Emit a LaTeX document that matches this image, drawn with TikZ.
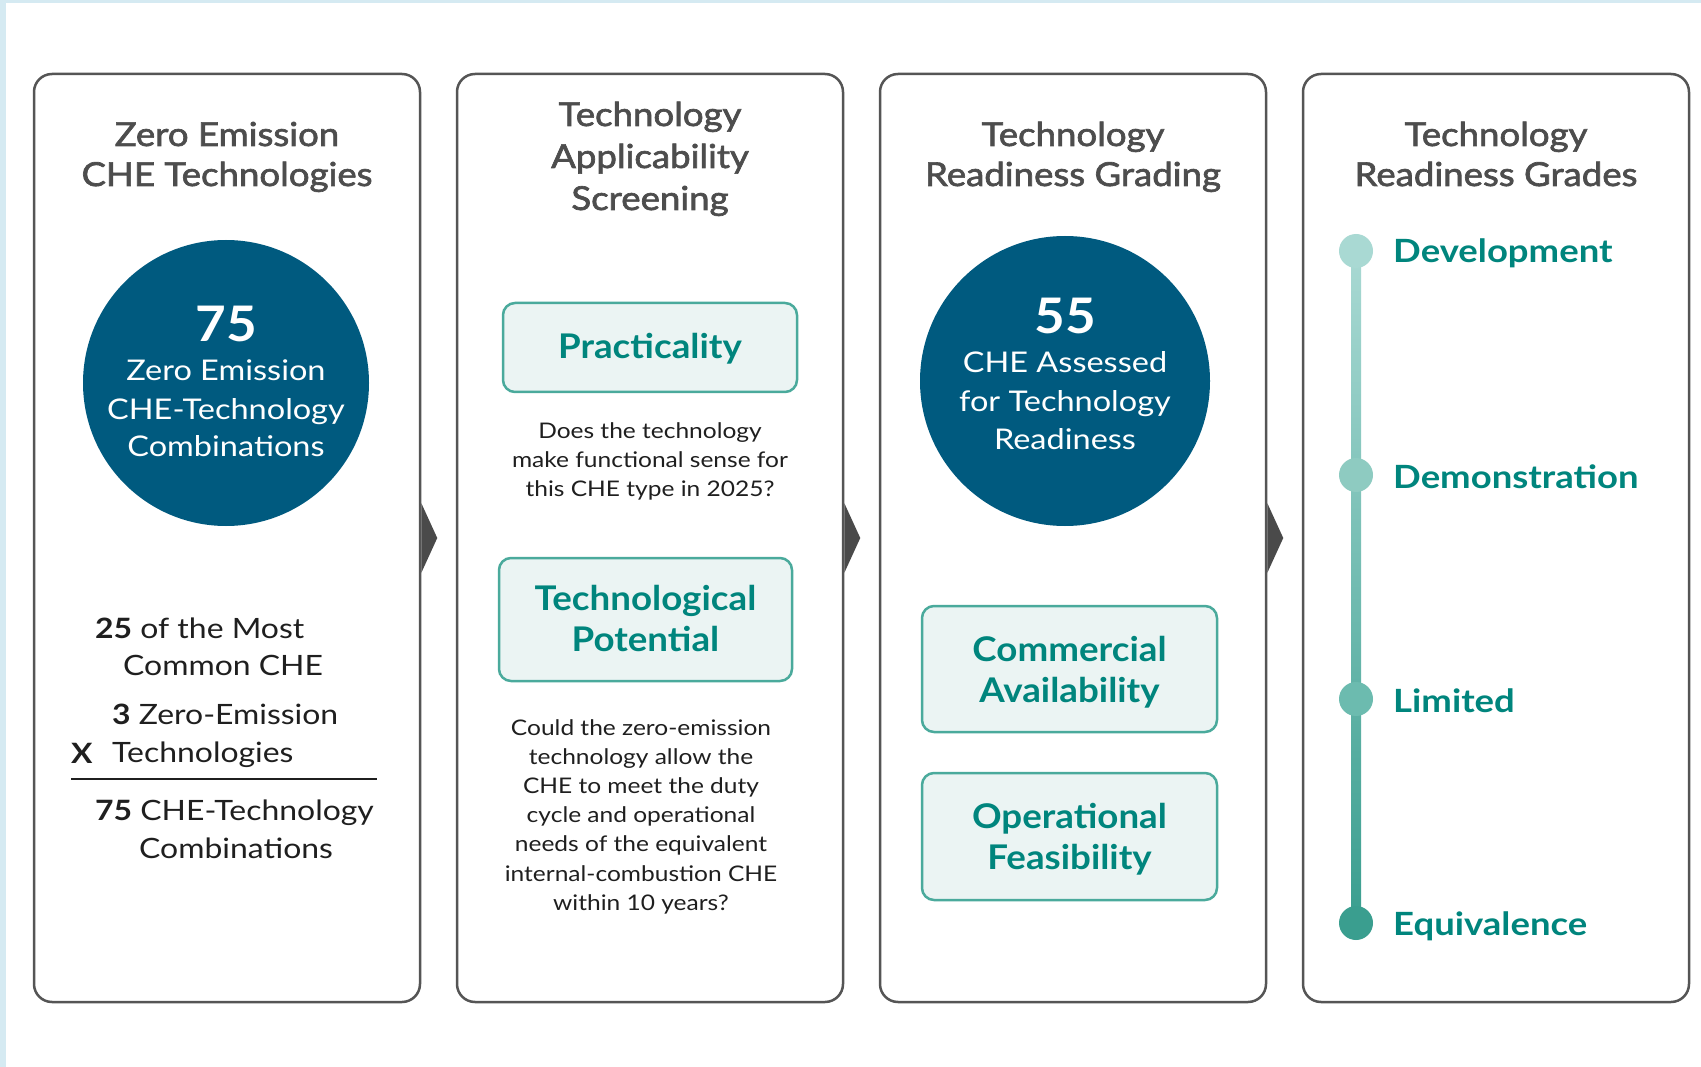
\documentclass[tikz,border=0pt]{standalone}
\usepackage{fontspec}
\setmainfont{Lato}
\newfontfamily\medfont[FakeBold=2, FakeStretch=1.11]{Lato}
\newfontfamily\bodyfont[FakeStretch=1.14]{Lato}
\newfontfamily\boxfont[FakeStretch=1.08]{Lato}
\newfontfamily\gradefont[FakeStretch=1.14]{Lato}
\definecolor{panelc}{HTML}{555555}
\definecolor{titlec}{HTML}{4D4D4D}
\definecolor{circblue}{HTML}{005A7F}
\definecolor{tealtext}{HTML}{00857D}
\definecolor{boxline}{HTML}{4AAA9C}
\definecolor{boxfill}{HTML}{EBF4F3}
\definecolor{bodyc}{HTML}{1F1F1F}
\definecolor{arrowc}{HTML}{4A4A4A}
\definecolor{bgblue}{HTML}{D5EAF2}
\definecolor{dotA}{HTML}{A9D9D3}
\definecolor{dotB}{HTML}{8ECBC1}
\definecolor{dotC}{HTML}{6CBBAF}
\definecolor{dotD}{HTML}{3A9E8F}
\tikzset{
  panel/.style={draw=panelc, line width=2.5pt, rounded corners=18pt, minimum width=386pt, minimum height=928pt, inner sep=0pt, fill=white},
  ttl/.style={anchor=base, inner sep=0pt, text=titlec, font={\medfont\fontsize{33}{40}\selectfont}},
  circ/.style={circle, fill=circblue, minimum size=#1, inner sep=0pt},
  bignum/.style={anchor=base, inner sep=0pt, text=white, font={\boxfont\bfseries\fontsize{49}{50}\selectfont}},
  circtext/.style={anchor=base, inner sep=0pt, text=white, font={\bodyfont\fontsize{28.5}{34}\selectfont}},
  critbox/.style={draw=boxline, fill=boxfill, line width=2.5pt, rounded corners=12pt, inner sep=0pt},
  crittext/.style={anchor=base, inner sep=0pt, text=tealtext, font={\boxfont\bfseries\fontsize{34}{40}\selectfont}},
  qtext/.style={anchor=base, inner sep=0pt, text=bodyc, font={\bodyfont\fontsize{21.5}{28}\selectfont}},
  lefttext/.style={anchor=base west, inner sep=0pt, text=bodyc, font={\bodyfont\fontsize{28}{34}\selectfont}},
  gdot/.style={circle, fill=#1, minimum size=34pt, inner sep=0pt},
  grade/.style={anchor=base west, inner sep=0pt, text=tealtext, font={\gradefont\bfseries\fontsize{32}{38}\selectfont}},
  pointer/.style={fill=arrowc}
}
\begin{document}
\begin{tikzpicture}[x=1pt, y=-1pt]
\useasboundingbox (0,0) rectangle (1701,1067);
\fill[white] (0,0) rectangle (1701,1067);
\fill[bgblue] (0,0) rectangle (6,1067);
\fill[bgblue] (0,0) rectangle (1701,3);

% panels
\node[panel] (p1) at (227,538) {};
\node[panel] (p2) at (650,538) {};
\node[panel] (p3) at (1073,538) {};
\node[panel] (p4) at (1496,538) {};

% pointers between panels
\foreach \p in {p1,p2,p3}{
  \fill[pointer] (\p.east) ++(0,-35) -- ++(16,35) -- ++(-16,35) -- cycle;
}

% titles
\node[ttl] (t1a) at (227,146) {Zero Emission};
\node[ttl] (t1b) at (227,186) {CHE Technologies};
\node[ttl] (t2a) at (650,126) {Technology};
\node[ttl] (t2b) at (650,168) {Applicability};
\node[ttl] (t2c) at (650,210) {Screening};
\node[ttl] (t3a) at (1073,146) {Technology};
\node[ttl] (t3b) at (1073,186) {Readiness Grading};
\node[ttl] (t4a) at (1496,146) {Technology};
\node[ttl] (t4b) at (1496,186) {Readiness Grades};

% circle 1
\node[circ=286pt] (c1) at (226,383) {};
\node[bignum] (c1n) at (226,342) {75};
\node[circtext] (c1a) at (226,381) {Zero Emission};
\node[circtext] (c1b) at (226,419) {CHE-Technology};
\node[circtext] (c1c) at (226,456) {Combinations};

% left panel lower text
\node[lefttext] (l1) at (95,638) {\textbf{25} of the Most};
\node[lefttext] (l2) at (123,675) {Common CHE};
\node[lefttext] (l3) at (112,724) {\textbf{3} Zero-Emission};
\node[lefttext] (lx) at (71,763) {\textbf{X}};
\node[lefttext] (l4) at (112,762) {Technologies};
\draw[bodyc, line width=2pt] (71,779) -- (377,779);
\node[lefttext] (l5) at (95,820) {\textbf{75} CHE-Technology};
\node[lefttext] (l6) at (139,858) {Combinations};

% panel 2 boxes
\node[critbox, minimum width=294pt, minimum height=89pt] (b1) at (650,347.5) {};
\node[crittext] (b1t) at (650,359) {Practicality};
\foreach \t [count=\i] in {Does the technology, make functional sense for, this CHE type in 2025?}{
  \node[qtext] (qa\i) at (650,{438+29*(\i-1)}) {\t};
}
\node[critbox, minimum width=293pt, minimum height=123pt] (b2) at (645.5,619.5) {};
\node[crittext] (b2a) at (645.5,610) {Technological};
\node[crittext] (b2b) at (645.5,651) {Potential};
\foreach \t [count=\i] in {Could the zero-emission, technology allow the, CHE to meet the duty, cycle and operational, needs of the equivalent, internal-combustion CHE, within 10 years?}{
  \node[qtext] (qb\i) at (641,{735+29.2*(\i-1)}) {\t};
}

% circle 2
\node[circ=290pt] (c2) at (1065,381) {};
\node[bignum] (c2n) at (1065,334) {55};
\node[circtext] (c2a) at (1065,373) {CHE Assessed};
\node[circtext] (c2b) at (1065,411) {for Technology};
\node[circtext] (c2c) at (1065,449) {Readiness};

% panel 3 boxes
\node[critbox, minimum width=295pt, minimum height=126pt] (b3) at (1069.5,669) {};
\node[crittext] (b3a) at (1069.5,661) {Commercial};
\node[crittext] (b3b) at (1069.5,702) {Availability};
\node[critbox, minimum width=295pt, minimum height=127pt] (b4) at (1069.5,836.5) {};
\node[crittext] (b4a) at (1069.5,828) {Operational};
\node[crittext] (b4b) at (1069.5,869) {Feasibility};

% grades timeline
\coordinate (gtop) at (1351,251);
\coordinate (gbot) at (1361,923);
\shade[top color=dotA, bottom color=dotD] (gtop) rectangle (gbot);
\node[gdot=dotA] (g1) at (1356,251) {};
\node[gdot=dotB] (g2) at (1356,475) {};
\node[gdot=dotC] (g3) at (1356,699) {};
\node[gdot=dotD] (g4) at (1356,923) {};
\node[grade] (g1t) at (1393,263) {Development};
\node[grade] (g2t) at (1393,488) {Demonstration};
\node[grade] (g3t) at (1393,712) {Limited};
\node[grade] (g4t) at (1393,935) {Equivalence};
\end{tikzpicture}
\end{document}
